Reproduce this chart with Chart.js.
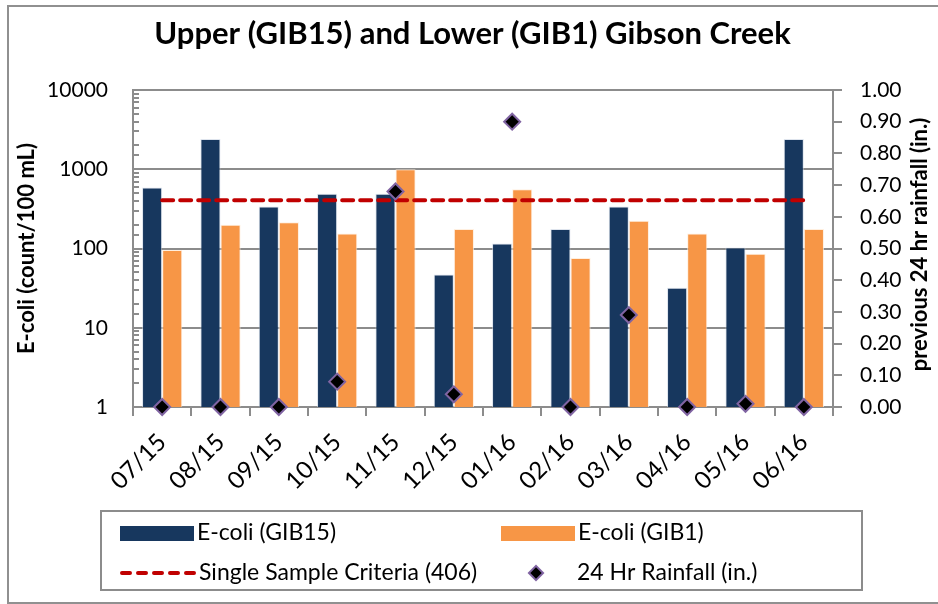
<!DOCTYPE html>
<html>
<head>
<meta charset="utf-8">
<script src="https://cdn.jsdelivr.net/npm/chart.js@4.4.1/dist/chart.umd.min.js"></script>
<style>
  html, body { margin: 0; padding: 0; background: #fff; }
  #wrap { width: 938px; height: 604px; }
</style>
</head>
<body>
<div id="wrap"><canvas id="myChart" width="938" height="604"></canvas></div>
<script>
    // values
    var categories = ['07/15', '08/15', '09/15', '10/15', '11/15', '12/15', '01/16', '02/16', '03/16', '04/16', '05/16', '06/16'];
    var ecoliGIB15 = [590, 2400, 340, 490, 490, 47, 116, 176, 340, 32, 103, 2400];
    var ecoliGIB1 = [96, 200, 215, 155, 1000, 176, 560, 76, 224, 155, 86, 176];
    var criteria = [406, 406, 406, 406, 406, 406, 406, 406, 406, 406, 406, 406];
    var rainfall = [0, 0, 0, 0.08, 0.68, 0.04, 0.90, 0, 0.29, 0, 0.01, 0];
    var leftTickLabels = [1, 10, 100, 1000, 10000];

    var FONT = 'Lato';
    var AXIS_GRAY = '#8c8c8c';
    var NAVY = '#17375e';
    var ORANGE = '#f79646';
    var RED = '#c00000';
    var RIGHT_TITLE = 'previous 24 hr rainfall (in.)';

    // outer frame of the picture
    var framePlugin = {
        id: 'frame',
        beforeDraw: function(chart) {
            var ctx = chart.ctx;
            ctx.save();
            ctx.fillStyle = '#fff';
            ctx.fillRect(0, 0, chart.width, chart.height);
            ctx.strokeStyle = '#909090';
            ctx.lineWidth = 2;
            ctx.strokeRect(8, 6, 940, 597);
            ctx.restore();
        }
    };

    // small inward ticks on the log axis + right axis title reading upward
    var axisExtrasPlugin = {
        id: 'axisExtras',
        afterDraw: function(chart) {
            var ctx = chart.ctx;
            var y = chart.scales.y;
            var area = chart.chartArea;
            ctx.save();
            ctx.strokeStyle = AXIS_GRAY;
            ctx.lineWidth = 2;
            y.ticks.forEach(function(t) {
                var py = Math.round(y.getPixelForValue(t.value));
                ctx.beginPath();
                ctx.moveTo(area.left, py);
                ctx.lineTo(area.left + 6, py);
                ctx.stroke();
            });
            ctx.translate(920, (area.top + area.bottom) / 2 - 4);
            ctx.rotate(-Math.PI / 2);
            ctx.font = 'bold 22px ' + FONT;
            ctx.fillStyle = '#000';
            ctx.textAlign = 'center';
            ctx.textBaseline = 'middle';
            ctx.fillText(RIGHT_TITLE, 0, 0);
            ctx.restore();
        }
    };

    // boxed legend in two columns, styles taken from the datasets
    var boxLegendPlugin = {
        id: 'boxLegend',
        afterDraw: function(chart) {
            var ctx = chart.ctx;
            var ds = chart.data.datasets;
            ctx.save();
            ctx.strokeStyle = '#8c8c8c';
            ctx.lineWidth = 2;
            ctx.strokeRect(101, 511, 761, 79);
            ctx.font = '23px ' + FONT;
            ctx.fillStyle = '#000';
            ctx.textBaseline = 'middle';
            var slots = [
                {i: 0, x: 120, y: 533},
                {i: 1, x: 501, y: 533},
                {i: 2, x: 120, y: 573},
                {i: 3, x: 501, y: 573}
            ];
            slots.forEach(function(s) {
                var d = ds[s.i];
                var textX = s.x + 77;
                if (d.type === 'bar') {
                    ctx.fillStyle = d.backgroundColor;
                    ctx.fillRect(s.x, s.y - 7, 74, 15);
                } else if (d.showLine === false) {
                    ctx.save();
                    ctx.translate(s.x + 35, s.y);
                    ctx.rotate(Math.PI / 4);
                    ctx.fillStyle = d.pointBackgroundColor;
                    ctx.strokeStyle = d.pointBorderColor;
                    ctx.lineWidth = 2;
                    ctx.fillRect(-5, -5, 10, 10);
                    ctx.strokeRect(-5, -5, 10, 10);
                    ctx.restore();
                    textX = s.x + 76;
                } else {
                    ctx.save();
                    ctx.strokeStyle = d.borderColor;
                    ctx.lineWidth = 4;
                    ctx.lineCap = 'round';
                    ctx.setLineDash([8, 8]);
                    ctx.beginPath();
                    ctx.moveTo(s.x + 2, s.y);
                    ctx.lineTo(s.x + 74, s.y);
                    ctx.stroke();
                    ctx.restore();
                    textX = s.x + 79;
                }
                ctx.fillStyle = '#000';
                ctx.fillText(d.label, textX, s.y);
            });
            ctx.restore();
        }
    };

    function isDecade(v) {
        return leftTickLabels.indexOf(v) !== -1;
    }

    var config = {
        data: {
            labels: categories,
            datasets: [
                {
                    type: 'bar',
                    label: 'E-coli (GIB15)',
                    data: ecoliGIB15,
                    yAxisID: 'y',
                    backgroundColor: NAVY,
                    borderColor: 'rgba(200,210,225,0.6)',
                    borderWidth: 1,
                    barPercentage: 1,
                    categoryPercentage: 0.69,
                    order: 3
                },
                {
                    type: 'bar',
                    label: 'E-coli (GIB1)',
                    data: ecoliGIB1,
                    yAxisID: 'y',
                    backgroundColor: ORANGE,
                    borderColor: 'rgba(255,235,215,0.8)',
                    borderWidth: 1,
                    barPercentage: 1,
                    categoryPercentage: 0.69,
                    order: 4
                },
                {
                    type: 'line',
                    label: 'Single Sample Criteria (406)',
                    data: criteria,
                    yAxisID: 'y',
                    borderColor: RED,
                    borderWidth: 4,
                    borderDash: [11, 7],
                    borderCapStyle: 'round',
                    pointRadius: 0,
                    fill: false,
                    order: 2
                },
                {
                    type: 'line',
                    label: '24 Hr Rainfall (in.)',
                    data: rainfall,
                    yAxisID: 'y1',
                    showLine: false,
                    pointStyle: 'rectRot',
                    pointRadius: 8,
                    pointBackgroundColor: '#000',
                    pointBorderColor: '#8064a2',
                    pointBorderWidth: 2,
                    clip: false,
                    order: 1
                }
            ]
        },
        options: {
            responsive: false,
            animation: false,
            layout: { padding: { left: 10, right: 3, top: 0, bottom: 97 } },
            plugins: {
                legend: { display: false },
                tooltip: { enabled: false },
                title: {
                    display: true,
                    text: 'Upper (GIB15) and Lower (GIB1) Gibson Creek',
                    color: '#000',
                    font: { family: FONT, size: 31, weight: 'bold', lineHeight: 1.2 },
                    padding: { top: 15, bottom: 37.8 }
                }
            },
            scales: {
                x: {
                    offset: true,
                    grid: { display: true, drawOnChartArea: false, drawTicks: true, tickLength: 9, offset: true, color: AXIS_GRAY, lineWidth: 2 },
                    border: { color: AXIS_GRAY, width: 2 },
                    ticks: { color: '#000', font: { family: FONT, size: 24 }, minRotation: 45, maxRotation: 45, padding: 12 },
                    afterFit: function(s) { s.height = 100; }
                },
                y: {
                    type: 'logarithmic',
                    position: 'left',
                    min: 1,
                    max: 10000,
                    grid: {
                        drawTicks: false,
                        lineWidth: 2,
                        color: function(c) { return (c.tick && isDecade(c.tick.value)) ? AXIS_GRAY : 'rgba(0,0,0,0)'; }
                    },
                    border: { color: AXIS_GRAY, width: 2 },
                    ticks: {
                        color: '#000',
                        font: { family: FONT, size: 21 },
                        padding: 25,
                        autoSkip: false,
                        callback: function(v) { return isDecade(v) ? String(v) : ''; }
                    },
                    title: {
                        display: true,
                        text: 'E-coli (count/100 mL)',
                        color: '#000',
                        font: { family: FONT, size: 22, weight: 'bold' },
                        padding: { top: 4, bottom: 4 }
                    },
                    afterFit: function(s) { s.width = 123; }
                },
                y1: {
                    type: 'linear',
                    position: 'right',
                    min: 0,
                    max: 1,
                    grid: { drawOnChartArea: false, drawTicks: true, tickLength: 9, color: AXIS_GRAY, lineWidth: 2 },
                    border: { color: AXIS_GRAY, width: 2 },
                    ticks: {
                        stepSize: 0.1,
                        color: '#000',
                        font: { family: FONT, size: 21 },
                        padding: 18,
                        callback: function(v) { return Number(v).toFixed(2); }
                    },
                    afterFit: function(s) { s.width = 102; }
                }
            }
        },
        plugins: [framePlugin, axisExtrasPlugin, boxLegendPlugin]
    };

    var myChart = new Chart(document.getElementById('myChart'), config);
</script>
</body>
</html>
